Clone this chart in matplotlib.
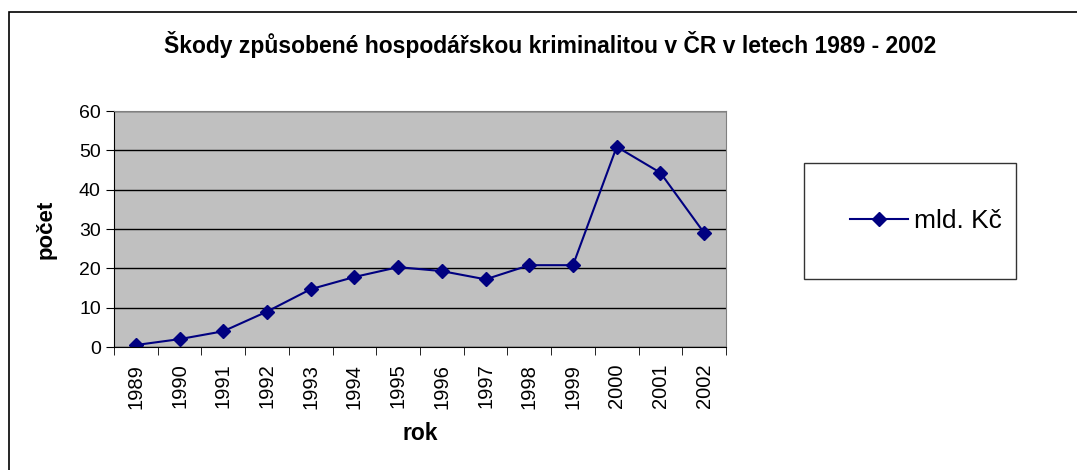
import matplotlib.pyplot as plt
import numpy as np
from matplotlib.patches import Rectangle

plt.rcParams['font.family'] = ['Liberation Sans', 'DejaVu Sans']

years = ['1989', '1990', '1991', '1992', '1993', '1994', '1995',
         '1996', '1997', '1998', '1999', '2000', '2001', '2002']
skody = [0.5, 2, 4, 9, 14.7, 17.8, 20.3, 19.3, 17.2, 20.8, 20.8, 50.9, 44.3, 29]

fig = plt.figure(figsize=(10.77, 4.70), dpi=100)
# outer chart frame
fig.patches.append(Rectangle((9 / 1077, -0.1), 1.2, 1.1 - 12 / 470,
                             transform=fig.transFigure, fill=False,
                             edgecolor='black', linewidth=1.2))

ax = fig.add_axes([114 / 1077, 1 - 347 / 470, 612 / 1077, 236 / 470])
x = np.arange(len(years))
ax.plot(x, skody, color='#000080', marker='D', markersize=7.5, linewidth=1.5,
        label='mld. Kč')

ax.set_facecolor('#c0c0c0')
ax.set_xlim(-0.5, len(years) - 0.5)
ax.set_ylim(0, 60)
ax.set_yticks(np.arange(0, 61, 10))
ax.yaxis.grid(True, color='black', linewidth=1)
ax.set_axisbelow(True)
for s in ['top', 'right']:
    ax.spines[s].set_color('#808080')
for s in ['left', 'bottom']:
    ax.spines[s].set_color('black')

ax.set_xticks(x)
ax.set_xticklabels(years, rotation=90, fontsize=14.5)
ax.tick_params(axis='x', length=0, pad=12)
ax.set_xticks(np.arange(-0.5, len(years), 1), minor=True)
ax.tick_params(axis='x', which='minor', length=6, direction='out')
ax.tick_params(axis='y', labelsize=14, length=6, direction='out')

ax.set_ylabel('počet', fontsize=16, fontweight='bold', labelpad=16)
ax.set_xlabel('rok', fontsize=16.5, fontweight='bold', labelpad=10)

fig.text(550 / 1077, 1 - 45 / 470,
         'Škody způsobené hospodářskou kriminalitou v ČR v letech 1989 - 2002',
         ha='center', va='center', fontsize=16.5, fontweight='bold')

leg = ax.legend(loc='center left', bbox_to_anchor=(804 / 1077, 1 - 277 / 470,
                                                  212 / 1077, 112 / 470),
                bbox_transform=fig.transFigure, mode='expand',
                borderaxespad=0, fontsize=19, frameon=True, fancybox=False,
                borderpad=1.75, handlelength=2.2, handletextpad=0.2)
leg.get_frame().set_edgecolor('black')
leg.get_frame().set_linewidth(1)

fig.savefig('out.png', dpi=100)
